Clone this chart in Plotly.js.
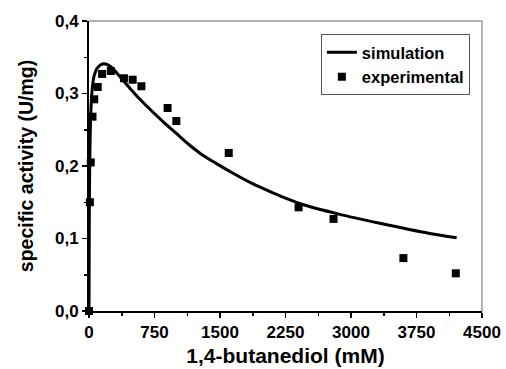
<!DOCTYPE html>
<html>
<head>
<meta charset="utf-8">
<script src="https://cdn.plot.ly/plotly-3.0.1.min.js"></script>
<style>
  html, body { margin: 0; padding: 0; background: #fff; }
  #chart { width: 506px; height: 369px; }
</style>
</head>
<body>
<div id="chart"></div>
<script>
// Experimental data (1,4-butanediol in mM, specific activity in U/mg)
const expX = [0, 10, 20, 40, 60, 100, 150, 250, 400, 500, 600, 900, 1000, 1600, 2400, 2800, 3600, 4200];
const expY = [0, 0.150, 0.205, 0.268, 0.292, 0.309, 0.327, 0.331, 0.321, 0.319, 0.310, 0.280, 0.262, 0.218, 0.143, 0.127, 0.073, 0.052];

// Simulation curve
const simX = [0, 3, 8, 15, 25, 40, 60, 100, 170, 250, 320, 470, 600, 850, 1000, 1150, 1290, 1450, 1650, 1850, 2030, 2200, 2420, 2850, 3330, 3900, 4210];
const simY = [0, 0.12, 0.20, 0.25, 0.285, 0.31, 0.325, 0.336, 0.341, 0.337, 0.328, 0.307, 0.29, 0.261, 0.245, 0.229, 0.216, 0.204, 0.19, 0.177, 0.167, 0.158, 0.148, 0.134, 0.121, 0.107, 0.101];

// Tick labels
const xTickVals = [0, 750, 1500, 2250, 3000, 3750, 4500];
const xTickLabels = ['0', '750', '1500', '2250', '3000', '3750', '4500'];
const xMinorVals = [375, 1125, 1875, 2625, 3375, 4125];
const yTickVals = [0, 0.1, 0.2, 0.3, 0.4];
const yTickLabels = ['0,0', '0,1', '0,2', '0,3', '0,4'];
const yMinorVals = [0.05, 0.15, 0.25, 0.35];

const FONT = 'Liberation Sans, Arial, sans-serif';

const traces = [
  {
    x: simX, y: simY, type: 'scatter', mode: 'lines', name: 'simulation',
    line: { color: '#000', width: 3, shape: 'spline', smoothing: 0.8 },
    cliponaxis: false
  },
  {
    x: expX, y: expY, type: 'scatter', mode: 'markers', name: 'experimental',
    marker: { symbol: 'square', size: 8, color: '#000' },
    cliponaxis: false
  }
];

const layout = {
  width: 506, height: 369,
  margin: { l: 89, r: 24, t: 21, b: 58 },
  paper_bgcolor: '#fff', plot_bgcolor: '#fff',
  font: { family: FONT, color: '#000', size: 16, weight: 'bold' },
  showlegend: true,
  legend: {
    x: 0.59, y: 0.955, xanchor: 'left', yanchor: 'top',
    bordercolor: '#555', borderwidth: 1, bgcolor: '#fff',
    font: { family: FONT, size: 16.5, weight: 'bold', color: '#000' },
    tracegroupgap: 0, itemwidth: 30
  },
  xaxis: {
    range: [0, 4500], showgrid: false, zeroline: false,
    showline: true, linecolor: '#000', linewidth: 2,
    ticks: 'outside', ticklen: 5, tickwidth: 1.5, tickcolor: '#000',
    tickmode: 'array', tickvals: xTickVals, ticktext: xTickLabels,
    tickfont: { family: FONT, size: 17, weight: 'bold' },
    minor: { tickmode: 'array', tickvals: xMinorVals, ticks: 'outside', ticklen: 3, tickwidth: 1.5, tickcolor: '#000', showgrid: false },
    title: { text: '1,4-butanediol (mM)', font: { family: FONT, size: 21, weight: 'bold' }, standoff: 7 },
    fixedrange: true
  },
  yaxis: {
    range: [0, 0.4], showgrid: false, zeroline: false,
    showline: true, linecolor: '#000', linewidth: 2,
    ticks: 'outside', ticklen: 5, tickwidth: 1.5, tickcolor: '#000',
    tickmode: 'array', tickvals: yTickVals, ticktext: yTickLabels,
    tickfont: { family: FONT, size: 17, weight: 'bold' },
    minor: { tickmode: 'array', tickvals: yMinorVals, ticks: 'outside', ticklen: 3, tickwidth: 1.5, tickcolor: '#000', showgrid: false },
    title: { text: 'specific activity (U/mg)', font: { family: FONT, size: 19.5, weight: 'bold' }, standoff: 16 },
    fixedrange: true
  },
  shapes: [
    { type: 'line', xref: 'paper', yref: 'paper', x0: 0, x1: 1, y0: 1, y1: 1, line: { color: '#666', width: 1 } },
    { type: 'line', xref: 'paper', yref: 'paper', x0: 1, x1: 1, y0: 0, y1: 1, line: { color: '#666', width: 1 } }
  ]
};

Plotly.newPlot('chart', traces, layout, { displayModeBar: false, staticPlot: true });
</script>
</body>
</html>
